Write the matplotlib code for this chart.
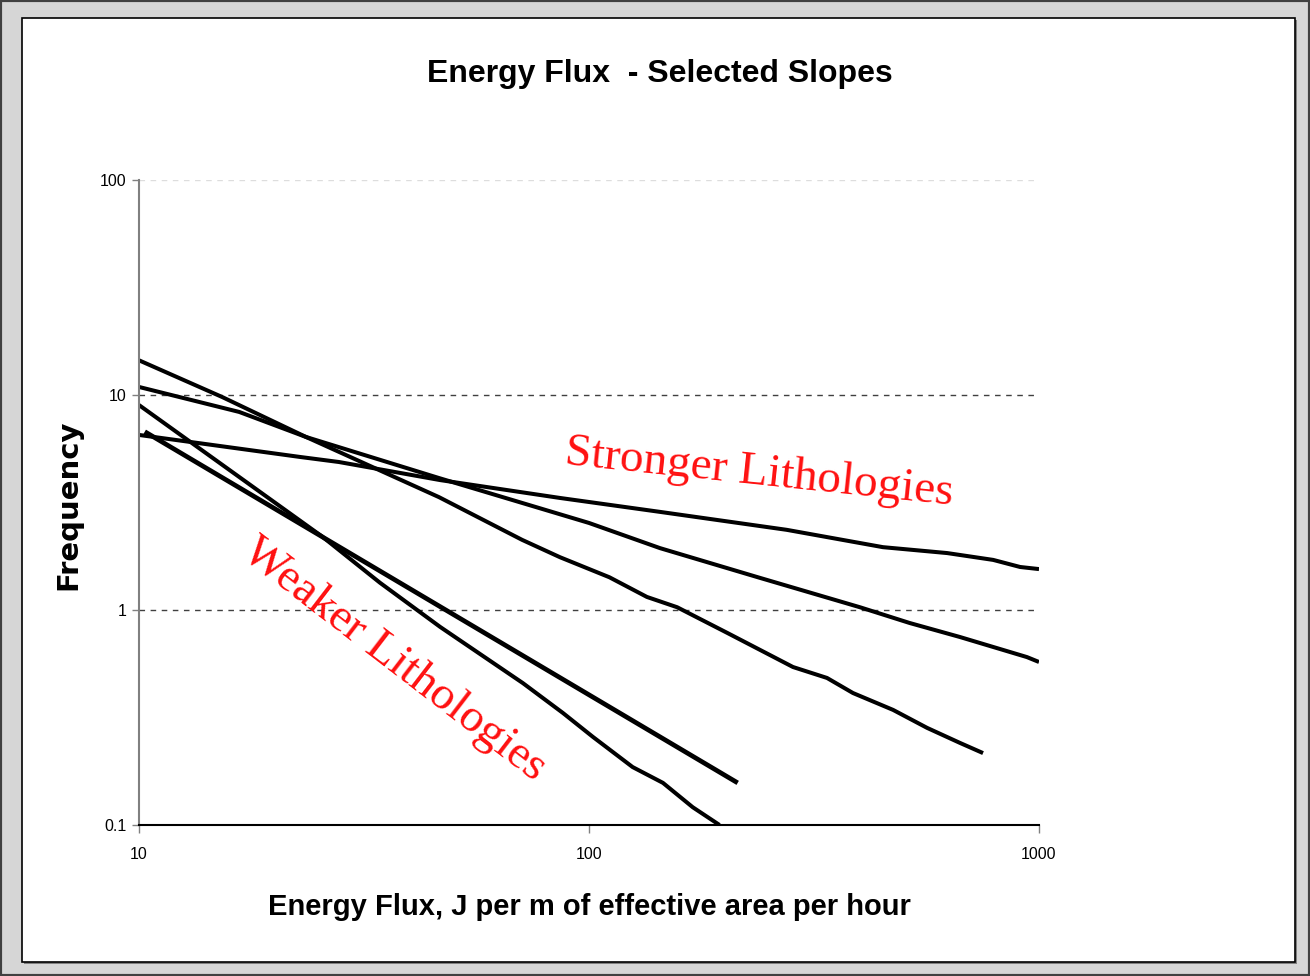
import matplotlib
matplotlib.use("Agg")
import matplotlib.pyplot as plt
from matplotlib.patches import Rectangle

# Stronger lithologies (flattest slope)
flux_a = [10, 22.8, 27.8, 46.7, 86.2, 143.8, 275, 450, 625, 791, 908, 1000]
freq_a = [6.52, 5.15, 4.88, 4.02, 3.32, 2.86, 2.36, 1.96, 1.84, 1.71, 1.585, 1.55]

flux_b = [10, 16.7, 23.5, 46.4, 100, 143.8, 240, 400, 516, 667, 940, 1000]
freq_b = [10.9, 8.34, 6.38, 4.11, 2.54, 1.94, 1.41, 1.03, 0.87, 0.749, 0.604, 0.573]

flux_c = [10, 15.3, 23.5, 46.4, 71.0, 86.2, 111, 134.5, 157, 203, 240, 284, 338, 386,
          474, 564, 667, 751]
freq_c = [14.5, 9.79, 6.38, 3.35, 2.12, 1.76, 1.42, 1.15, 1.03, 0.782, 0.652, 0.543,
          0.483, 0.411, 0.343, 0.283, 0.241, 0.216]

# Weaker lithologies
flux_d = [10.3, 214]
freq_d = [6.75, 0.157]

flux_e = [10, 25.5, 34.3, 46.7, 71.3, 87.5, 102, 125, 146, 170, 195]
freq_e = [8.98, 2.2, 1.34, 0.834, 0.457, 0.332, 0.257, 0.186, 0.157, 0.121, 0.1]

x_ticks = [10, 100, 1000]
x_tick_labels = ["10", "100", "1000"]
y_ticks = [0.1, 1, 10, 100]
y_tick_labels = ["0.1", "1", "10", "100"]

sans = ["Liberation Sans", "DejaVu Sans"]
serif = ["Liberation Serif", "DejaVu Serif"]

fig = plt.figure(figsize=(13.1, 9.76), dpi=100)
fig.patch.set_facecolor("#d6d6d6")

# outer dark edge and inner white chart frame (behind the axes)
fig.patches.append(Rectangle((0.0, 0.0), 1.0, 1.0, transform=fig.transFigure,
                             facecolor="none", edgecolor="#404040", lw=3, zorder=-3))
fig.patches.append(Rectangle((24 / 1310, 12 / 976), 1273 / 1310, 944 / 976,
                             transform=fig.transFigure, facecolor="#808080",
                             edgecolor="none", zorder=-2))
fig.patches.append(Rectangle((22 / 1310, 14 / 976), 1273 / 1310, 944 / 976,
                             transform=fig.transFigure, facecolor="white",
                             edgecolor="black", lw=1.2, zorder=-1))

ax = fig.add_axes([139 / 1310, 1 - 825 / 976, 900 / 1310, 645 / 976])
ax.set_facecolor("none")

for fx, fy in [(flux_a, freq_a), (flux_b, freq_b), (flux_c, freq_c), (flux_e, freq_e)]:
    ax.plot(fx, fy, color="black", lw=2.9, solid_capstyle="butt", solid_joinstyle="round")
ax.plot(flux_d, freq_d, color="black", lw=3.4, solid_capstyle="butt")

ax.set_xscale("log")
ax.set_yscale("log")
ax.set_xlim(10, 1000)
ax.set_ylim(0.1, 100)

ax.set_xticks(x_ticks)
ax.set_xticklabels(x_tick_labels)
ax.set_yticks(y_ticks)
ax.set_yticklabels(y_tick_labels)
ax.minorticks_off()
ax.tick_params(axis="x", direction="out", length=6, width=1, color="#808080",
               pad=10, labelsize=11.5)
ax.tick_params(axis="y", direction="out", length=5, width=1, color="#808080",
               pad=4, labelsize=11.5)
for lab in ax.get_xticklabels() + ax.get_yticklabels():
    lab.set_family(sans)

ax.grid(axis="y", linestyle=(0, (4, 4)), color="#404040", lw=1)
ygl = ax.get_ygridlines()
ygl[0].set_visible(False)
ygl[3].set_color("#dddddd")

for side in ["top", "right"]:
    ax.spines[side].set_visible(False)
ax.spines["left"].set_color("#808080")
ax.spines["left"].set_linewidth(1.5)
ax.spines["bottom"].set_color("black")
ax.spines["bottom"].set_linewidth(1.5)

fig.text(759 / 1310, 1 - 473 / 976, "Stronger Lithologies", color="#ff1010",
         family=serif, fontsize=34, rotation=-6, ha="center", va="center",
         rotation_mode="anchor")
fig.text(394 / 1310, 1 - 660 / 976, "Weaker Lithologies", color="#ff1010",
         family=serif, fontsize=34, rotation=-37.5, ha="center", va="center",
         rotation_mode="anchor")

fig.text(660 / 1310, 1 - 74 / 976, "Energy Flux  - Selected Slopes", ha="center",
         va="center", fontsize=23, fontweight="bold", family=sans)
fig.text(589 / 1310, 1 - 907 / 976, "Energy Flux, J per m of effective area per hour",
         ha="center", va="center", fontsize=21, fontweight="bold", family=sans)
fig.text(68 / 1310, 1 - 505 / 976, "Frequency", ha="center", va="center",
         rotation=90, fontsize=21, fontweight="bold", family="DejaVu Sans")

fig.savefig("out.png", dpi=100, facecolor=fig.get_facecolor())
